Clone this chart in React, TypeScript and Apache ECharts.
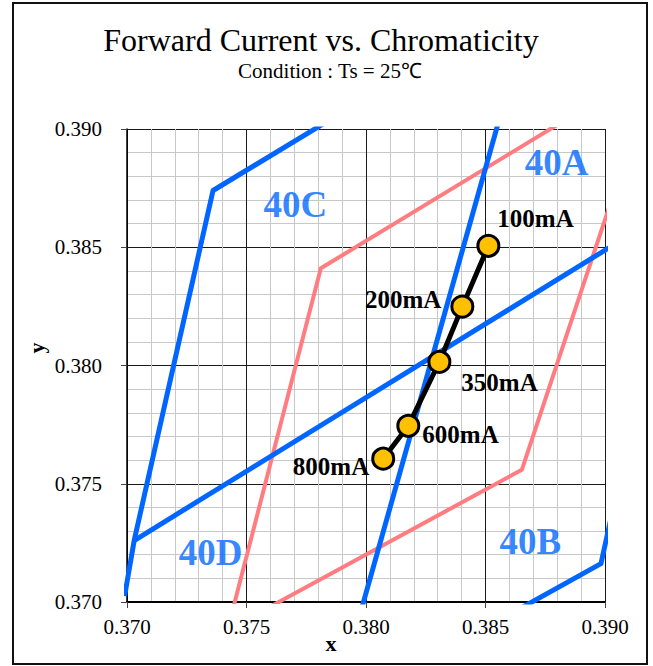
import React, { useEffect, useRef } from "react";
import * as echarts from "echarts";

// ---- data ----
const currents = ["100mA", "200mA", "350mA", "600mA", "800mA"];
const cieX = [0.38512, 0.38403, 0.38307, 0.38177, 0.38072];
const cieY = [0.38506, 0.38249, 0.38015, 0.37745, 0.37606];

// bin boundary polylines (blue)
const blueLeftX = [0.3699, 0.3703, 0.3736, 0.379];
const blueLeftY = [0.37025, 0.3726, 0.3874, 0.3907];
const blueMidX = [0.3703, 0.391];
const blueMidY = [0.3726, 0.3855];
const blueSteepX = [0.3797, 0.3856];
const blueSteepY = [0.3693, 0.3905];
const blueRightX = [0.386, 0.38983, 0.3905];
const blueRightY = [0.36947, 0.37162, 0.3747];

// pink polylines
const pinkUpperX = [0.37433, 0.37811, 0.3885];
const pinkUpperY = [0.3693, 0.38411, 0.39048];
const pinkLowerX = [0.3755, 0.38652, 0.3903];
const pinkLowerY = [0.36953, 0.37559, 0.38708];

// bin names and where they sit
const binNames = ["40A", "40B", "40C", "40D"];
const binX = [0.38798, 0.38688, 0.37704, 0.3735];
const binY = [0.38858, 0.37256, 0.3868, 0.3721];

const axisMin = 0.37;
const axisMax = 0.39;
const axisStep = 0.005;

// label placement for the current labels (style, not data)
const labelPlacement: { position: "left" | "right"; offset: [number, number] }[] = [
  { position: "right", offset: [-3, -27] },
  { position: "left", offset: [-9, -7] },
  { position: "right", offset: [10, 21] },
  { position: "right", offset: [2, 9] },
  { position: "left", offset: [-2, 8] },
];

const FONT = "'Liberation Serif', 'Times New Roman', serif";
const BLUE = "#0066FF";
const PINK = "#FF7C80";

const zip = (xs: number[], ys: number[]) => xs.map((x, i) => [x, ys[i]]);

export default function App() {
  const ref = useRef<HTMLDivElement>(null);

  useEffect(() => {
    if (!ref.current) return;
    const chart = echarts.init(ref.current, null, { renderer: "svg" });

    const boundary = (name: string, xs: number[], ys: number[], color: string, width: number) => ({
      name,
      type: "line",
      data: zip(xs, ys),
      symbol: "none",
      clip: true,
      silent: true,
      lineStyle: { color, width, join: "round" },
      z: 2,
    });

    const axisCommon = {
      type: "value",
      min: axisMin,
      max: axisMax,
      interval: axisStep,
      axisLabel: {
        formatter: (v: number) => v.toFixed(3),
        fontFamily: FONT,
        fontSize: 21,
        color: "#000",
      },
      axisTick: { show: true, inside: false, length: 6, lineStyle: { color: "#444", width: 1 } },
      splitLine: { show: true, lineStyle: { color: "#1a1a1a", width: 1 } },
      minorTick: { show: false, splitNumber: 5 },
      minorSplitLine: { show: true, lineStyle: { color: "#c8c8c8", width: 1 } },
    };

    const option: any = {
      animation: false,
      backgroundColor: "#fff",
      grid: { left: 127, right: 48, top: 129, bottom: 64, containLabel: false },
      xAxis: {
        ...axisCommon,
        axisLine: { show: true, onZero: false, lineStyle: { color: "#000", width: 2 } },
        axisLabel: { ...axisCommon.axisLabel, margin: 14 },
      },
      yAxis: {
        ...axisCommon,
        axisLine: { show: true, onZero: false, lineStyle: { color: "#000", width: 1.5 } },
        axisLabel: { ...axisCommon.axisLabel, margin: 25 },
      },
      graphic: [
        {
          type: "rect",
          shape: { x: 13, y: 3, width: 634, height: 661 },
          style: { fill: "none", stroke: "#111", lineWidth: 2 },
          silent: true,
          z: 100,
        },
        {
          type: "text",
          x: 321,
          y: 40,
          style: {
            text: "Forward Current vs. Chromaticity",
            font: `32px ${FONT}`,
            fill: "#000",
            align: "center",
            verticalAlign: "middle",
          },
        },
        {
          type: "text",
          x: 330,
          y: 71,
          style: {
            text: "Condition : Ts = 25\u2103",
            font: `21px ${FONT}`,
            fill: "#000",
            align: "center",
            verticalAlign: "middle",
          },
        },
        {
          type: "text",
          x: 331,
          y: 643,
          style: {
            text: "x",
            font: `bold 22px ${FONT}`,
            fill: "#000",
            align: "center",
            verticalAlign: "middle",
          },
        },
        {
          type: "text",
          x: 36,
          y: 348,
          rotation: Math.PI / 2,
          style: {
            text: "y",
            font: `bold 22px ${FONT}`,
            fill: "#000",
            align: "center",
            verticalAlign: "middle",
          },
        },
      ],
      series: [
        boundary("pinkUpper", pinkUpperX, pinkUpperY, PINK, 4),
        boundary("pinkLower", pinkLowerX, pinkLowerY, PINK, 4),
        boundary("blueLeft", blueLeftX, blueLeftY, BLUE, 5),
        boundary("blueMid", blueMidX, blueMidY, BLUE, 5),
        boundary("blueSteep", blueSteepX, blueSteepY, BLUE, 5),
        boundary("blueRight", blueRightX, blueRightY, BLUE, 5),
        {
          name: "bins",
          type: "scatter",
          symbolSize: 0.1,
          itemStyle: { color: "transparent" },
          silent: true,
          z: 5,
          data: binNames.map((n, i) => ({ name: n, value: [binX[i], binY[i]] })),
          label: {
            show: true,
            position: "inside",
            formatter: (p: any) => p.name,
            fontFamily: FONT,
            fontWeight: "bold",
            fontSize: 37,
            color: BLUE,
          },
        },
        {
          name: "Forward current",
          type: "line",
          z: 10,
          symbol: "circle",
          symbolSize: 21,
          clip: true,
          lineStyle: { color: "#000", width: 5, join: "round" },
          itemStyle: { color: "#FFC000", borderColor: "#000", borderWidth: 3 },
          data: currents.map((c, i) => ({
            name: c,
            value: [cieX[i], cieY[i]],
            label: {
              show: true,
              position: labelPlacement[i].position,
              distance: 0,
              offset: labelPlacement[i].offset,
              formatter: c,
              fontFamily: FONT,
              fontWeight: "bold",
              fontSize: 25,
              color: "#000",
            },
          })),
        },
      ],
    };

    chart.setOption(option);
    return () => chart.dispose();
  }, []);

  return (
    <div
      ref={ref}
      style={{ position: "fixed", left: 0, top: 0, width: 653, height: 666, background: "#fff" }}
    />
  );
}
